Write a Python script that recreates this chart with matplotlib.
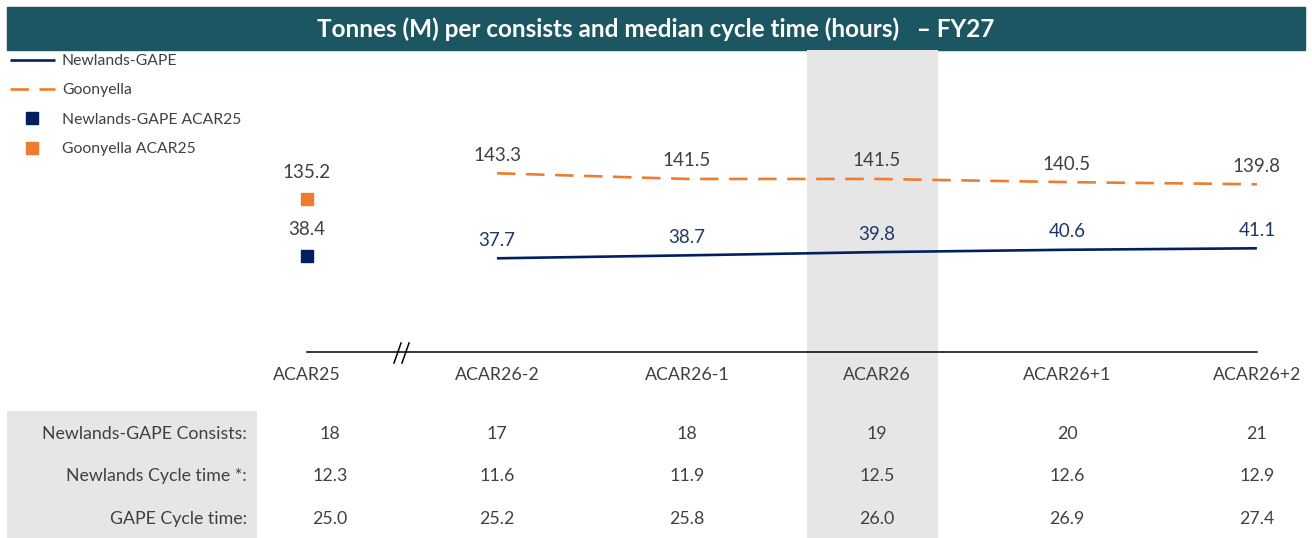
import matplotlib.pyplot as plt
import matplotlib.transforms as mtransforms
from matplotlib.patches import Rectangle
import numpy as np

plt.rcParams['font.family'] = ['Lato', 'DejaVu Sans']

categories = ['ACAR25', 'ACAR26-2', 'ACAR26-1', 'ACAR26', 'ACAR26+1', 'ACAR26+2']
newlands = [37.7, 38.7, 39.8, 40.6, 41.1]
goonyella = [143.3, 141.5, 141.5, 140.5, 139.8]
newlands_acar25 = 38.4
goonyella_acar25 = 135.2

row_labels = ['Newlands-GAPE Consists:', 'Newlands Cycle time *:', 'GAPE Cycle time:']
consists = ['18', '17', '18', '19', '20', '21']
newlands_cycle = ['12.3', '11.6', '11.9', '12.5', '12.6', '12.9']
gape_cycle = ['25.0', '25.2', '25.8', '26.0', '26.9', '27.4']

NAVY = '#002060'
ORANGE = '#ED7D31'
GREY_TXT = '#404040'
BAND = '#E7E6E6'
FS = 12.8

W, H = 1312, 538
fig = plt.figure(figsize=(W / 100, H / 100), dpi=100)

# title bar
fig.add_artist(Rectangle((7 / W, 488 / H), 1298 / W, 43 / H, transform=fig.transFigure,
                         color='#1C5663', zorder=0))
fig.text(656 / W, 1 - 29 / H, 'Tonnes (M) per consists and median cycle time (hours)   \u2013 FY27',
         color='white', fontsize=17.5, fontweight='bold', ha='center', va='center')

ax = fig.add_axes([7 / W, 0, 1298 / W, 488 / H])
ax2 = ax.twinx()
x = np.arange(len(categories))
ax.set_xlim(-1.579, 5.253)
ax.set_ylim(-57.44, 108.55)
ax2.set_ylim(27.15, 182.57)
ax.axis('off')
ax2.axis('off')

trans = mtransforms.blended_transform_factory(ax.transData, ax.transAxes)

# highlighted ACAR26 column
ax.axvspan(2.63, 3.32, color=BAND, zorder=0, lw=0)
# table label background
ax.add_patch(Rectangle((0, 0), 250 / 1298, 127 / 488, transform=ax.transAxes,
                       color=BAND, zorder=0, lw=0))

l1, = ax.plot(x[1:], newlands, color=NAVY, lw=1.9, solid_capstyle='butt')
l2, = ax2.plot(x[1:], goonyella, color=ORANGE, lw=1.9, dashes=(7, 4))
m1, = ax.plot(x[0], newlands_acar25, 's', ms=9, color=NAVY, lw=0)
m2, = ax2.plot(x[0], goonyella_acar25, 's', ms=9, color=ORANGE, lw=0)

for xi, v in zip(x[1:], newlands):
    ax.annotate(f'{v:.1f}', (xi, v), xytext=(0, 13), textcoords='offset points',
                ha='center', va='center', color='#1F3864', fontsize=13.5)
for xi, v in zip(x[1:], goonyella):
    ax2.annotate(f'{v:.1f}', (xi, v), xytext=(0, 13), textcoords='offset points',
                 ha='center', va='center', color=GREY_TXT, fontsize=13.5)
ax.annotate(f'{newlands_acar25:.1f}', (x[0], newlands_acar25), xytext=(0, 19),
            textcoords='offset points', ha='center', va='center', color=GREY_TXT, fontsize=13.5)
ax2.annotate(f'{goonyella_acar25:.1f}', (x[0], goonyella_acar25), xytext=(0, 19),
             textcoords='offset points', ha='center', va='center', color=GREY_TXT, fontsize=13.5)

# x axis line with break
ax.plot([x[0], x[-1]], [0.381, 0.381], transform=trans, color='black', lw=1.1, clip_on=False)
ax.plot([0.458, 0.495], [0.3586, 0.3996], transform=trans, color='black', lw=1.1)
ax.plot([0.500, 0.537], [0.3586, 0.3996], transform=trans, color='black', lw=1.1)

for xi, c in zip(x, categories):
    ax.text(xi, 0.334, c, transform=trans, ha='center', va='center', fontsize=FS, color=GREY_TXT)

# table below the chart
table_x = x.astype(float)
table_x[0] += 0.12
rows = [consists, newlands_cycle, gape_cycle]
row_y = [0.213, 0.127, 0.039]
for label, vals, yy in zip(row_labels, rows, row_y):
    ax.text(240 / 1298, yy, label, transform=ax.transAxes, ha='right', va='center',
            fontsize=FS, color=GREY_TXT)
    for xi, v in zip(table_x, vals):
        ax.text(xi, yy, v, transform=trans, ha='center', va='center', fontsize=FS, color=GREY_TXT)

fig.legend([l1, l2, m1, m2],
           ['Newlands-GAPE', 'Goonyella', 'Newlands-GAPE ACAR25', 'Goonyella ACAR25'],
           loc='upper left', bbox_to_anchor=(10 / W, 1 - 54 / H), frameon=False,
           fontsize=11.3, handlelength=2.85, handletextpad=0.45, labelspacing=0.98,
           borderpad=0, borderaxespad=0, labelcolor=GREY_TXT)

fig.savefig('out.png', dpi=100)
